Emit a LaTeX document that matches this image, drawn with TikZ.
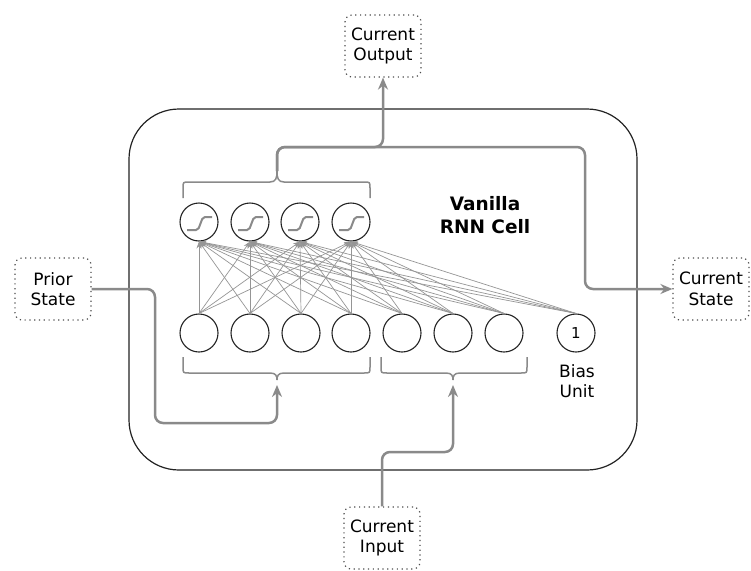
\documentclass[tikz,border=0pt]{standalone}
\usepackage{fontspec}
\setmainfont{DejaVu Sans}
\usetikzlibrary{arrows.meta}
\definecolor{flow}{HTML}{8A8A8A}
\definecolor{wirec}{HTML}{959595}
\definecolor{ink}{HTML}{222222}
\begin{document}
\begin{tikzpicture}[x=1pt,y=-1pt,
  neuron/.style={circle,draw=ink,line width=1.1pt,minimum size=38pt,inner sep=0pt,font=\fontsize{15}{17}\selectfont},
  iobox/.style={draw=black!70,line width=1.2pt,dash pattern=on 1.2pt off 3.6pt,rounded corners=7pt,minimum width=76pt,minimum height=62pt,align=center,font=\fontsize{17}{20.5}\selectfont},
  flowline/.style={draw=flow,line width=2.5pt,rounded corners=8pt},
  flowarrow/.style={flowline,-{Stealth[length=12pt,width=10pt]}},
  wire/.style={draw=wirec,line width=0.7pt,-{Stealth[length=7pt,width=5pt]}},
  bracestyle/.style={draw=flow,line width=1.5pt},
  sigstyle/.style={draw=flow,line width=2pt,rounded corners=2pt},
]
\useasboundingbox (0,0) rectangle (751,570);

% main cell
\node[draw=ink,line width=1.2pt,rounded corners=50pt,minimum width=508pt,minimum height=361pt] (cell) at (383,289.5) {};
\node[font=\bfseries\fontsize{18.5}{23}\selectfont,align=center] (title) at (485,215) {Vanilla\\RNN Cell};

% io boxes
\node[iobox] (prior)  at (53,289)  {Prior\\State};
\node[iobox] (state)  at (711,289) {Current\\State};
\node[iobox] (output) at (383,46)  {Current\\Output};
\node[iobox] (input)  at (382,538) {Current\\Input};

% hidden neurons
\foreach \n/\x in {h1/199,h2/250,h3/300,h4/351}{
  \node[neuron] (\n) at (\x,222) {};
  \draw[sigstyle] (\x-12,230) -- (\x-1,230) -- (\x+4,217) -- (\x+13,217);
}
% input neurons
\foreach \n/\x in {x1/199,x2/250,x3/301,x4/351,x5/402,x6/453,x7/504}{
  \node[neuron] (\n) at (\x,333) {};
}
\node[neuron] (bias) at (576,333) {1};
\node[font=\fontsize{17}{20}\selectfont,align=center] (biaslabel) at (577,381) {Bias\\Unit};

% wires
\foreach \i in {x1,x2,x3,x4,x5,x6,x7,bias}{
  \foreach \j in {h1,h2,h3,h4}{
    \draw[wire] (\i.north) -- (\j.south);
  }
}

% braces
\coordinate (topTip) at (277,171);
\coordinate (lbTip) at (277,380);
\coordinate (rbTip) at (453,380);
\draw[bracestyle] (183,198) -- (183,188) .. controls (183,182) .. (189,182) -- (270,182)
  .. controls (276,182) and (277,178) .. (topTip)
  .. controls (277,178) and (278,182) .. (284,182) -- (364,182)
  .. controls (370,182) .. (370,188) -- (370,198);
\draw[bracestyle] (183,357) -- (183,367) .. controls (183,373) .. (189,373) -- (270,373)
  .. controls (276,373) and (277,376) .. (lbTip)
  .. controls (277,376) and (278,373) .. (284,373) -- (364,373)
  .. controls (370,373) .. (370,367) -- (370,357);
\draw[bracestyle] (381,357) -- (381,367) .. controls (381,373) .. (387,373) -- (446,373)
  .. controls (452,373) and (453,376) .. (rbTip)
  .. controls (453,376) and (454,373) .. (460,373) -- (521,373)
  .. controls (527,373) .. (527,367) -- (527,357);

% flows
\draw[flowarrow] (topTip) -- (277,147) -- (585,147) -- (585,289) -- (state.west);
\draw[flowarrow] (topTip) -- (277,147) -- (383,147) -- (output.south);
\draw[flowarrow,shorten >=5pt] (prior.east) -- (155,289) -- (155,423) -- (277,423) -- (lbTip);
\draw[flowarrow,shorten >=5pt] (input.north) -- (382,452) -- (453,452) -- (rbTip);
\end{tikzpicture}
\end{document}
